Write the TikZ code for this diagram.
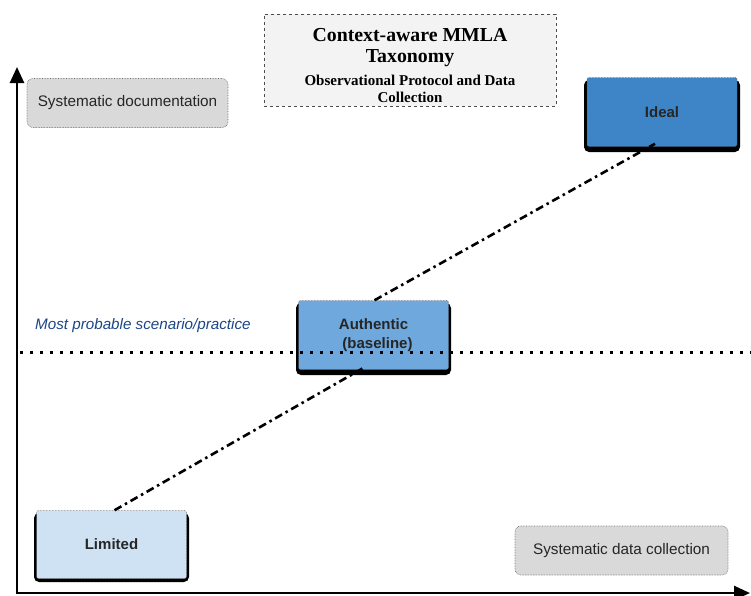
\documentclass[tikz,border=0pt]{standalone}
\usepackage{fontspec}
\setmainfont{Liberation Sans}
\newfontfamily\titlefont{Liberation Serif}
\usetikzlibrary{arrows.meta}
\definecolor{grayfill}{HTML}{D9D9D9}
\definecolor{titlefill}{HTML}{F3F3F3}
\definecolor{idealfill}{HTML}{3D85C6}
\definecolor{authfill}{HTML}{6FA8DC}
\definecolor{limfill}{HTML}{CFE2F3}
\definecolor{probtext}{HTML}{1C4587}
\begin{document}
\begin{tikzpicture}[x=1pt,y=-1pt,
  labelbox/.style={draw=black!60,densely dotted,line width=0.6pt,fill=grayfill,rounded corners=6pt,
    minimum width=#1,minimum height=49pt,font=\fontsize{15.3}{18}\selectfont,text=black!85},
  levelbox/.style={draw=black!70,densely dotted,line width=0.5pt,rounded corners=2pt,
    minimum width=150pt,minimum height=69pt,font=\bfseries\fontsize{15}{19}\selectfont,align=center,text=black!85},
  shadowbox/.style={fill=black,rounded corners=5pt},
  axisline/.style={line width=2.6pt,-{Triangle[length=16pt,width=14pt]}},
  trendline/.style={line width=2.6pt,dash pattern=on 8pt off 4pt on 2.5pt off 4pt},
  probline/.style={line width=3pt,dash pattern=on 3pt off 7pt},
  titleline/.style={inner sep=0pt,font=\titlefont\bfseries\fontsize{#1}{#1}\selectfont,text=black}
]
\useasboundingbox (0,0) rectangle (751,595);
% axes
\coordinate (origin) at (17,593);
\coordinate (ytip) at (17,67);
\coordinate (xtip) at (750,593);
\draw[axisline] (origin) -- (ytip);
\draw[axisline] ([xshift=-1.3pt]origin) -- (xtip);
% title
\node[draw=black!70,dashed,line width=0.5pt,fill=titlefill,minimum width=292pt,minimum height=92pt] (title) at (410,60) {};
\node[titleline=19.8] (t1) at (410,35) {Context-aware MMLA};
\node[titleline=19.8] (t2) at (410,58) {Taxonomy};
\node[titleline=15] (t3) at (410,80) {Observational Protocol and Data};
\node[titleline=15] (t4) at (410,97.5) {Collection};
% side labels
\node[labelbox=201pt] (sysdoc) at (127.5,103) {Systematic documentation};
\node[labelbox=213pt] (sysdata) at (621.5,550.5) {Systematic data collection};
% most probable
\coordinate (pl) at (20,352);
\coordinate (pr) at (751,352);
\node[anchor=west,inner sep=0pt,font=\itshape\fontsize{15.2}{18}\selectfont,text=probtext] (prob) at (35,326) {Most probable scenario/practice};
% shadows
\fill[shadowbox] (584,80) rectangle (740,152);
\fill[shadowbox] (296,303) rectangle (451,375);
\fill[shadowbox] (34,513) rectangle (189,582);
% level boxes
\node[levelbox,fill=idealfill] (ideal) at (662,112) {Ideal};
\node[levelbox,fill=authfill] (auth) at (373.5,335) {\raisebox{-2pt}{Authentic}\\[0pt]\hspace*{8pt}\raisebox{-2pt}{(baseline)}};
\node[levelbox,fill=limfill,minimum height=68pt] (lim) at (111.5,544.5) {Limited};
% dotted most probable line
\draw[probline] (pl) -- (pr);
% trend lines
\draw[trendline] ([xshift=3pt]lim.north) -- ([xshift=-8pt,yshift=3pt]auth.south);
\draw[trendline] ([xshift=1pt]auth.north) -- ([xshift=-7pt,yshift=3pt]ideal.south);
\end{tikzpicture}
\end{document}
